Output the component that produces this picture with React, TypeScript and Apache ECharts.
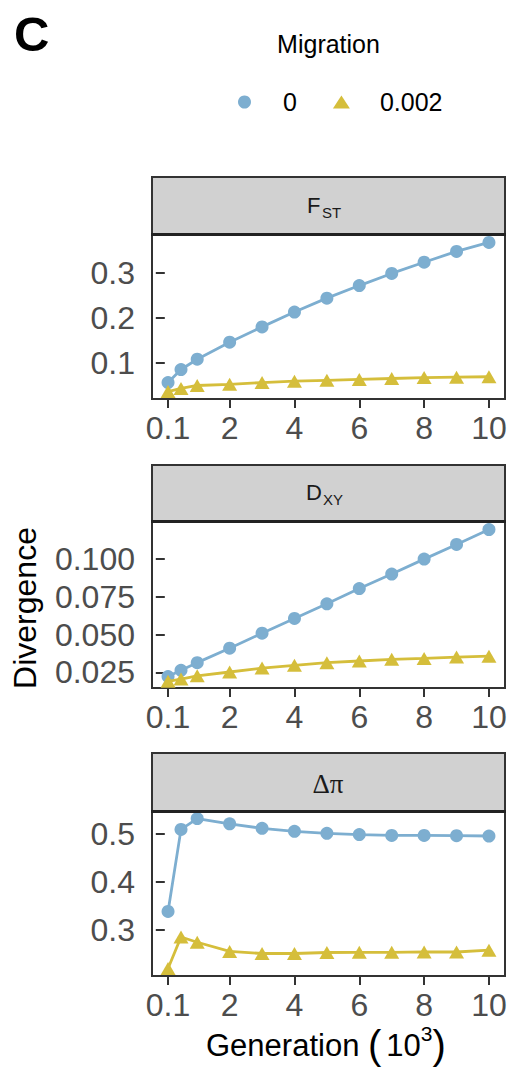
import React, { useEffect, useRef } from "react";
import * as echarts from "echarts";

const generations = [0.1, 0.5, 1, 2, 3, 4, 5, 6, 7, 8, 9, 10];
const xTickValues = [0.1, 2, 4, 6, 8, 10];

const fstM0 = [0.056, 0.085, 0.108, 0.146, 0.18, 0.213, 0.244, 0.272, 0.299, 0.324, 0.348, 0.368];
const fstM002 = [0.036, 0.043, 0.0495, 0.052, 0.056, 0.059, 0.061, 0.063, 0.065, 0.067, 0.068, 0.069];

const dxyM0 = [0.0222, 0.0263, 0.0314, 0.041, 0.0509, 0.0607, 0.0704, 0.0805, 0.0901, 0.1, 0.1097, 0.1196];
const dxyM002 = [0.019, 0.0205, 0.0227, 0.0252, 0.0278, 0.0296, 0.0314, 0.0325, 0.0336, 0.0342, 0.0351, 0.0357];

const dpiM0 = [0.339, 0.5095, 0.532, 0.521, 0.5117, 0.5055, 0.5014, 0.4986, 0.497, 0.497, 0.4965, 0.4957];
const dpiM002 = [0.2205, 0.286, 0.275, 0.256, 0.2516, 0.2516, 0.2537, 0.254, 0.254, 0.255, 0.2548, 0.2585];

const fstTicks = [0.1, 0.2, 0.3];
const dxyTicks = [0.025, 0.05, 0.075, 0.1];
const dpiTicks = [0.3, 0.4, 0.5];

const legendNames = ["0", "0.002"];

const BLUE = "#7DAED0";
const YELLOW = "#D5BE3B";
const BORDER = "#333333";
const TICKTXT = "#4D4D4D";

export default function App() {
  const ref = useRef<HTMLDivElement>(null);

  useEffect(() => {
    if (!ref.current) return;
    const chart = echarts.init(ref.current, null, { renderer: "svg" });

    const left = 152;
    const right = 6;
    const panels = [
      { top: 235, height: 164, yMin: 0.0194, yMax: 0.3846, ticks: fstTicks, dec: 1, a: fstM0, b: fstM002 },
      { top: 522, height: 166, yMin: 0.0146, yMax: 0.1246, ticks: dxyTicks, dec: 3, a: dxyM0, b: dxyM002 },
      { top: 812, height: 164, yMin: 0.2049, yMax: 0.5456, ticks: dpiTicks, dec: 1, a: dpiM0, b: dpiM002 },
    ];

    const sans = "Liberation Sans, Arial, sans-serif";

    const grids = panels.map((p) => ({
      left,
      right,
      top: p.top,
      height: p.height,
      show: true,
      borderColor: BORDER,
      borderWidth: 2,
      backgroundColor: "#ffffff",
      containLabel: false,
    }));

    const xAxes = panels.map((_, i) => ({
      type: "value",
      gridIndex: i,
      min: -0.395,
      max: 10.495,
      axisLine: { show: false },
      splitLine: { show: false },
      axisTick: {
        show: true,
        length: 9,
        customValues: xTickValues,
        lineStyle: { color: BORDER, width: 2 },
      },
      axisLabel: {
        show: true,
        customValues: xTickValues,
        margin: 13,
        fontSize: 32,
        lineHeight: 32,
        color: TICKTXT,
        fontFamily: sans,
        formatter: (v: number) => String(v),
      },
    }));

    const yAxes = panels.map((p, i) => ({
      type: "value",
      gridIndex: i,
      min: p.yMin,
      max: p.yMax,
      axisLine: { show: false },
      splitLine: { show: false },
      axisTick: {
        show: true,
        length: 9,
        customValues: p.ticks,
        lineStyle: { color: BORDER, width: 2 },
      },
      axisLabel: {
        show: true,
        customValues: p.ticks,
        margin: 17,
        fontSize: 32,
        color: TICKTXT,
        fontFamily: sans,
        formatter: (v: number) => v.toFixed(p.dec),
      },
    }));

    const series: any[] = [];
    panels.forEach((p, i) => {
      series.push({
        name: legendNames[0],
        type: "line",
        xAxisIndex: i,
        yAxisIndex: i,
        data: generations.map((g, k) => [g, p.a[k]]),
        symbol: "circle",
        symbolSize: 13,
        lineStyle: { color: BLUE, width: 2.8 },
        itemStyle: { color: BLUE },
        z: 2,
      });
      series.push({
        name: legendNames[1],
        type: "line",
        xAxisIndex: i,
        yAxisIndex: i,
        data: generations.map((g, k) => [g, p.b[k]]),
        symbol: "triangle",
        symbolSize: [15, 13],
        lineStyle: { color: YELLOW, width: 2.8 },
        itemStyle: { color: YELLOW },
        z: 3,
      });
    });

    const strips = [177, 465, 753];
    const stripH = [57, 56, 58];
    const graphics: any[] = [];
    strips.forEach((y, i) => {
      graphics.push({
        type: "rect",
        shape: { x: 152, y, width: 353, height: stripH[i] },
        style: { fill: "#D1D1D1", stroke: BORDER, lineWidth: 2 },
        z: 10,
      });
      graphics.push({
        type: "line",
        shape: { x1: 151, y1: y + stripH[i] + 0.5, x2: 506, y2: y + stripH[i] + 0.5 },
        style: { stroke: "#222222", lineWidth: 3 },
        z: 11,
      });
    });

    const txt = (text: string, x: number, y: number, fontSize: number, extra: any = {}) => ({
      type: "text",
      x,
      y,
      z: 12,
      style: {
        text,
        fontSize,
        fontFamily: sans,
        fill: "#1A1A1A",
        align: "left",
        verticalAlign: "middle",
        ...extra,
      },
    });

    // Strip labels
    graphics.push(txt("F", 307, 205.8, 22));
    graphics.push(txt("ST", 322, 212.7, 15));
    graphics.push(txt("D", 306, 492.5, 22));
    graphics.push(txt("XY", 323, 499.7, 15));
    graphics.push(
      txt("Δπ", 328, 784, 27, { align: "center", fontFamily: "Liberation Serif, Times New Roman, serif" })
    );

    // Panel tag
    graphics.push(txt("C", 14, 34, 49, { fontWeight: "bold", fill: "#000000" }));
    // Legend title
    graphics.push(txt("Migration", 328.5, 44, 25, { align: "center", fill: "#000000" }));

    // Axis titles
    graphics.push({
      type: "text",
      x: 25,
      y: 608,
      rotation: Math.PI / 2,
      z: 12,
      style: {
        text: "Divergence",
        fontSize: 32,
        fontFamily: sans,
        fill: "#000000",
        align: "center",
        verticalAlign: "middle",
      },
    });
    graphics.push({
      type: "text",
      x: 206,
      y: 1045,
      z: 12,
      style: {
        text: "{g|Generation }{p|(}{n|10}{s|3}{p|)}",
        fontFamily: sans,
        fill: "#000000",
        align: "left",
        verticalAlign: "middle",
        rich: {
          g: { fontSize: 31, lineHeight: 45, fontFamily: sans, fill: "#000000" },
          p: { fontSize: 40, lineHeight: 45, fontFamily: sans, fill: "#000000", padding: [0, 2, 0, 0] },
          n: { fontSize: 31, lineHeight: 45, fontFamily: sans, fill: "#000000", padding: [0, 0, 0, 3] },
          s: {
            fontSize: 21,
            lineHeight: 17,
            verticalAlign: "top",
            fontFamily: sans,
            fill: "#000000",
          },
        },
      },
    });

    chart.setOption({
      animation: false,
      backgroundColor: "#ffffff",
      grid: grids,
      xAxis: xAxes,
      yAxis: yAxes,
      legend: {
        left: 233,
        top: 84,
        orient: "horizontal",
        itemWidth: 17,
        itemHeight: 13,
        itemGap: 36,
        selectedMode: false,
        data: [
          { name: legendNames[0], icon: "circle", itemStyle: { color: BLUE } },
          { name: legendNames[1], icon: "triangle", itemStyle: { color: YELLOW } },
        ],
        textStyle: {
          fontSize: 25,
          lineHeight: 26,
          color: "#000000",
          fontFamily: sans,
          padding: [0, 0, 0, 25],
        },
      },
      graphic: graphics,
      series,
    });

    return () => chart.dispose();
  }, []);

  return (
    <div
      ref={ref}
      style={{ position: "absolute", left: 0, top: 0, width: 511, height: 1074 }}
    />
  );
}
